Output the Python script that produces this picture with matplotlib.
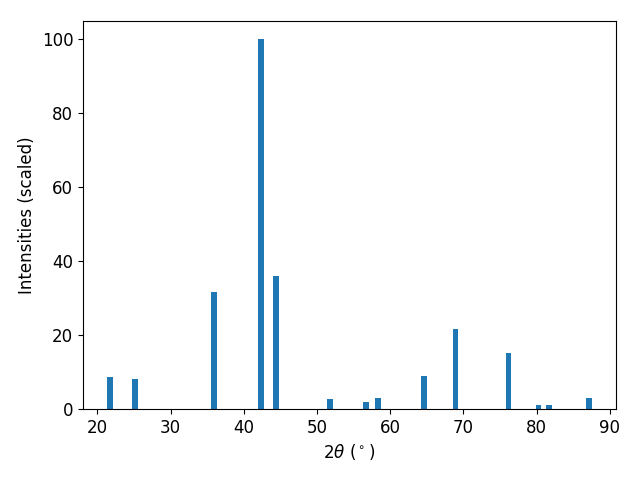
import matplotlib
matplotlib.use("Agg")
import matplotlib.pyplot as plt

# peak positions (2theta, degrees) and scaled intensities
two_theta = [21.73, 25.12, 35.88, 42.29, 44.38, 51.75, 56.72, 58.30, 64.57,
             68.93, 76.17, 80.26, 81.76, 87.15]
intensity = [8.7, 8.1, 31.7, 100.0, 36.0, 2.7, 1.9, 3.0, 8.9,
             21.7, 15.2, 1.1, 1.1, 3.0]

plt.rcParams['font.size'] = 12

fig, ax = plt.subplots(figsize=(6.4, 4.8), dpi=100)
ax.bar(two_theta, intensity, width=0.8)
ax.set_xlabel(r'$2\theta$ ($^\circ$)')
ax.set_ylabel('Intensities (scaled)')
fig.subplots_adjust(left=83/640, right=616/640, top=1 - 21/480, bottom=1 - 409/480)
fig.savefig('out.png')
